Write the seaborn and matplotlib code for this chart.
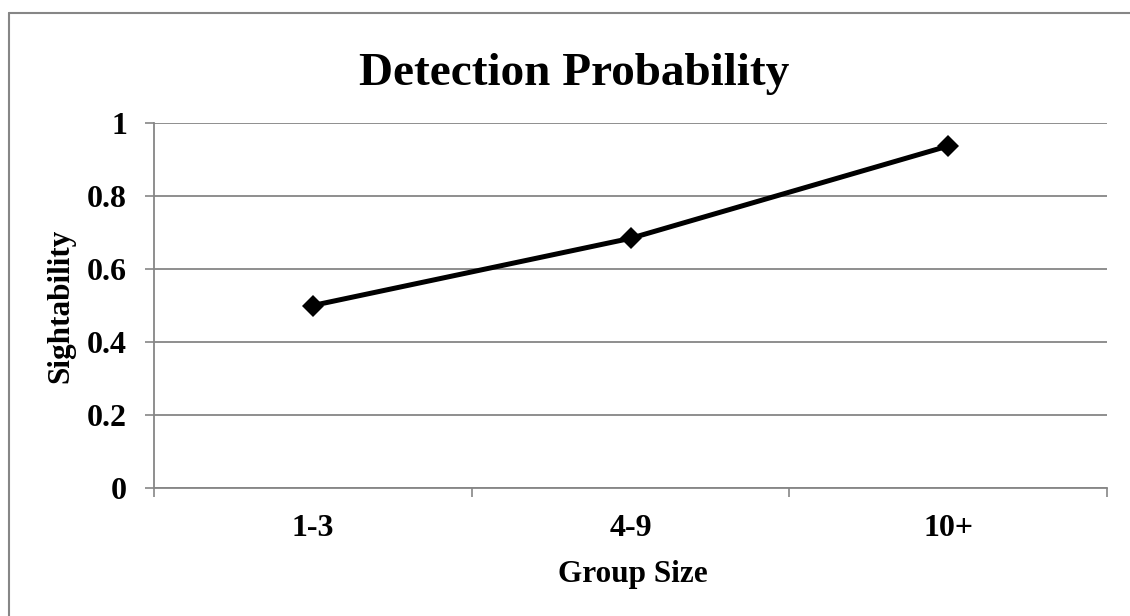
import matplotlib
matplotlib.use("Agg")
import matplotlib.pyplot as plt
import seaborn as sns
import pandas as pd
from matplotlib.lines import Line2D

# Detection probability by group size
group_sizes = ["1-3", "4-9", "10+"]
sightability = [0.50, 0.684, 0.937]
y_ticks = [0, 0.2, 0.4, 0.6, 0.8, 1]
y_tick_labels = ["0", "0.2", "0.4", "0.6", "0.8", "1"]

GRID = "#868686"

sns.set_theme(style="white")
plt.rcParams["font.family"] = ["Liberation Serif", "DejaVu Serif"]
plt.rcParams["font.weight"] = "bold"
plt.rcParams["text.color"] = "black"
plt.rcParams["axes.labelcolor"] = "black"
plt.rcParams["xtick.labelcolor"] = "black"
plt.rcParams["ytick.labelcolor"] = "black"

W, H = 1130, 616
fig = plt.figure(figsize=(W / 100, H / 100), dpi=100)
fig.patch.set_facecolor("white")
ax = fig.add_axes([154 / W, 1 - 488 / H, (1107 - 154) / W, (488 - 123) / H])
ax.set_facecolor("white")

df = pd.DataFrame({"Group Size": group_sizes, "Sightability": sightability})
sns.lineplot(data=df, x="Group Size", y="Sightability", sort=False,
             color="black", linewidth=3.6, marker="D", markersize=11,
             markeredgecolor="black", markeredgewidth=0, ax=ax, zorder=3)

# x axis: ticks between categories, labels centred on categories
ax.set_xlim(-0.5, len(group_sizes) - 0.5)
bounds = [i - 0.5 for i in range(len(group_sizes) + 1)]
ax.set_xticks(bounds)
ax.set_xticklabels([""] * len(bounds))
ax.set_xticks(list(range(len(group_sizes))), minor=True)
ax.set_xticklabels(group_sizes, minor=True)
ax.tick_params(axis="x", which="major", bottom=True, length=6.5, width=1.2,
               color=GRID, direction="out")
ax.tick_params(axis="x", which="minor", bottom=True, length=0, pad=19,
               labelsize=23, labelcolor="black")

# y axis
ax.set_ylim(0, 1)
ax.set_yticks(y_ticks)
ax.set_yticklabels(y_tick_labels)
ax.tick_params(axis="y", which="major", left=True, length=6.5, width=1.2,
               color=GRID, direction="out", pad=13, labelsize=23,
               labelcolor="black")
for lab in ax.get_xticklabels(minor=True) + ax.get_yticklabels():
    lab.set_fontweight("bold")
    lab.set_color("black")

ax.yaxis.grid(True, color=GRID, linewidth=1.3)
ax.xaxis.grid(False)
for side in ("top", "right"):
    ax.spines[side].set_visible(False)
for side in ("left", "bottom"):
    ax.spines[side].set_color(GRID)
    ax.spines[side].set_linewidth(1.3)

ax.set_xlabel("Group Size", fontsize=22.5, fontweight="bold", color="black")
ax.xaxis.set_label_coords(0.5026, -0.2575)
ax.xaxis.label.set_va("baseline")
ax.set_ylabel("Sightability", fontsize=22.5, fontweight="bold", color="black")
ax.yaxis.set_label_coords(-0.0976, 0.5)
ax.yaxis.label.set_va("center")

fig.text(574 / W, 1 - 85 / H, "Detection Probability", ha="center",
         va="baseline", fontsize=34, fontweight="bold", color="black")

# chart-area frame
fig.add_artist(Line2D([8.5 / W, 8.5 / W], [0, 1 - 12.5 / H],
                      transform=fig.transFigure, color=GRID, linewidth=1.5))
fig.add_artist(Line2D([8.5 / W, 1], [1 - 12.5 / H, 1 - 12.5 / H],
                      transform=fig.transFigure, color=GRID, linewidth=1.5))

fig.savefig("out.png", dpi=100, facecolor="white")
